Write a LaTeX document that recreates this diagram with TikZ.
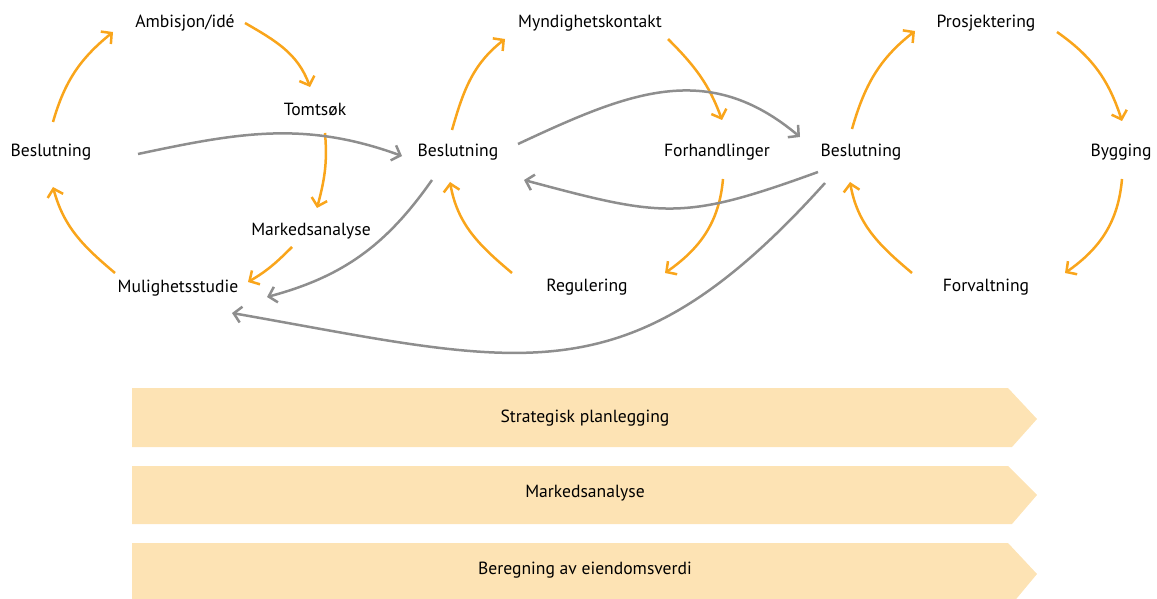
\documentclass[tikz,border=0pt]{standalone}
\usepackage{fontspec}
\setmainfont{PT Sans}
\usetikzlibrary{arrows.meta}
\definecolor{orng}{HTML}{F9A51B}
\definecolor{gry}{HTML}{8E8E8E}
\definecolor{peach}{HTML}{FDE3B4}
\begin{document}
\begin{tikzpicture}[x=1pt,y=1pt,
  lbl/.style={inner sep=0pt, font=\fontsize{17.6}{20}\selectfont, text=black},
  oarr/.style={draw=orng, line width=2.5pt, -{Straight Barb[length=7.5pt,width=16pt]}},
  garr/.style={draw=gry, line width=2.5pt, -{Straight Barb[length=7.5pt,width=16pt]}}]
\useasboundingbox (0,0) rectangle (1157,598);
% banners (y = 598 - Y)
\fill[peach] (132,210) -- (1008,210) -- (1037,179) -- (1012,151) -- (132,151) -- cycle;
\fill[peach] (132,132) -- (1008,132) -- (1037,103) -- (1012,74) -- (132,74) -- cycle;
\fill[peach] (132,55) -- (1008,55) -- (1037,24) -- (1012,-6) -- (132,-6) -- cycle;
\node[lbl] (s1) at (585,180) {Strategisk planlegging};
\node[lbl] (s2) at (585,105) {Markedsanalyse};
\node[lbl] (s3) at (585,28) {Beregning av eiendomsverdi};
% labels
\node[lbl] (amb)  at (185,575) {Ambisjon/idé};
\node[lbl] (tom)  at (315,489) {Tomtsøk};
\node[lbl] (b1)   at (51,446)  {Beslutning};
\node[lbl] (mark) at (311,367) {Markedsanalyse};
\node[lbl] (mul)  at (178,310) {Mulighetsstudie};
\node[lbl] (myn)  at (590,575) {Myndighetskontakt};
\node[lbl] (b2)   at (458,446) {Beslutning};
\node[lbl] (forh) at (717,446) {Forhandlinger};
\node[lbl] (reg)  at (587,311) {Regulering};
\node[lbl] (b3)   at (861,446) {Beslutning};
\node[lbl] (pros) at (986,575) {Prosjektering};
\node[lbl] (byg)  at (1121,446) {Bygging};
\node[lbl] (forv) at (986,311) {Forvaltning};
% left cycle
\draw[oarr] ([shift={(2,30)}]b1.center) to[out=74,in=219] ([shift={(-72,-9)}]amb.center);
\draw[oarr] ([shift={(60,0)}]amb.center) to[out=-30,in=110] ([shift={(-5,22)}]tom.center);
\draw[oarr] ([shift={(10,-24)}]tom.center) to[out=-85,in=75] ([shift={(6,23)}]mark.center);
\draw[oarr] ([shift={(-19,-16)}]mark.center) to[out=225,in=30] ([shift={(70,6)}]mul.center);
\draw[oarr] ([shift={(-63,15)}]mul.center) to[out=140,in=-75] ([shift={(2,-35)}]b1.center);
% middle cycle
\draw[oarr] ([shift={(-6,22)}]b2.center) to[out=74,in=218] ([shift={(-85,-16)}]myn.center);
\draw[oarr] ([shift={(78,-16)}]myn.center) to[out=-45,in=110] ([shift={(5,32)}]forh.center);
\draw[oarr] ([shift={(6,-27)}]forh.center) to[out=-95,in=35] ([shift={(78,14)}]reg.center);
\draw[oarr] ([shift={(-75,14)}]reg.center) to[out=140,in=-80] ([shift={(-8,-30)}]b2.center);
% right cycle
\draw[oarr] ([shift={(-9,23)}]b3.center) to[out=74,in=218] ([shift={(-71,-8)}]pros.center);
\draw[oarr] ([shift={(71,-9)}]pros.center) to[out=-35,in=108] ([shift={(1,31)}]byg.center);
\draw[oarr] ([shift={(1,-27)}]byg.center) to[out=-95,in=35] ([shift={(79,14)}]forv.center);
\draw[oarr] ([shift={(-74,14)}]forv.center) to[out=140,in=-80] ([shift={(-11,-30)}]b3.center);
% grey connectors
\draw[garr] ([shift={(87,-2)}]b1.center) to[out=12,in=160] ([shift={(-56,-4)}]b2.center);
\draw[garr] ([shift={(60,8)}]b2.center) to[out=25,in=140,looseness=1.1] ([shift={(-61,15)}]b3.center);
\draw[garr] ([shift={(-43,-20)}]b3.center) to[out=200,in=-15,looseness=1.25] ([shift={(66,-28)}]b2.center);
\draw[garr] ([shift={(-26,-28)}]b2.center) to[out=235,in=15] ([shift={(89,-9)}]mul.center);
\draw[garr] ([shift={(-36,-31)}]b3.center) to[out=228,in=-10,looseness=1.25] ([shift={(54,-25)}]mul.center);
\end{tikzpicture}
\end{document}
